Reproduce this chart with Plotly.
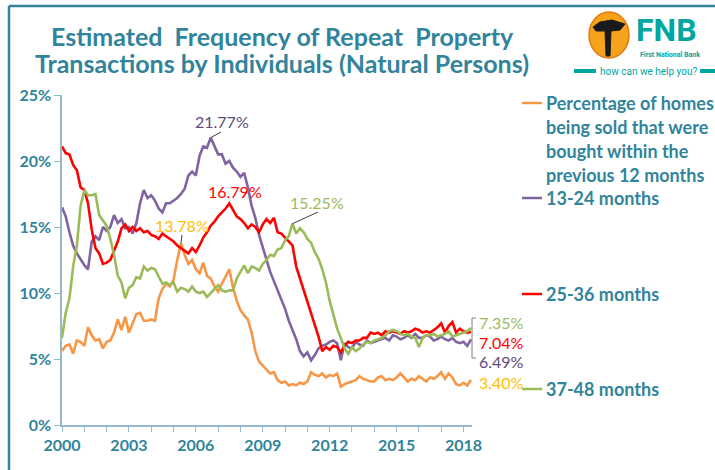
import plotly.graph_objects as go

# ---------------- data (bimonthly readings, Jan 2000 .. May 2018) ----------------
start_year = 2000
n_points = 111
x_years = [start_year + i / 6 for i in range(n_points)]

pct_12m = [
    5.6, 6.0, 6.1, 5.4, 6.4, 6.3,
    6.0, 7.4, 6.8, 6.4, 6.5, 5.8,
    6.3, 6.4, 7.0, 8.0, 7.2, 8.2,
    7.0, 7.7, 8.4, 8.5, 7.9, 7.9,
    8.0, 7.9, 9.6, 10.3, 10.7, 10.5,
    11.0, 12.5, 13.78, 12.9, 12.2, 12.5,
    11.8, 11.5, 12.3, 11.3, 11.1, 10.5,
    10.1, 10.7, 11.3, 11.8, 10.4, 9.4,
    8.7, 8.3, 8.0, 7.0, 5.6, 4.8,
    4.5, 4.2, 3.9, 4.0, 3.4, 3.2,
    3.3, 3.0, 3.1, 3.0, 3.2, 3.1,
    3.3, 4.0, 3.8, 3.7, 3.9, 3.6,
    3.8, 3.7, 3.9, 2.9, 3.1, 3.2,
    3.3, 3.4, 3.7, 3.5, 3.4, 3.3,
    3.3, 3.6, 3.7, 3.4, 3.5, 3.4,
    3.6, 3.9, 3.6, 3.3, 3.5, 3.4,
    3.7, 3.5, 3.3, 3.6, 3.5, 3.7,
    4.0, 3.5, 3.9, 3.6, 3.1, 3.0,
    3.2, 3.0, 3.40,
]

pct_13_24 = [
    16.5, 15.8, 14.6, 13.6, 13.0, 12.5,
    12.1, 11.8, 13.9, 14.3, 14.0, 15.0,
    14.7, 15.0, 15.9, 15.3, 15.6, 14.9,
    15.0, 14.5, 15.3, 16.8, 17.8, 17.2,
    17.4, 17.0, 16.4, 16.1, 16.8, 16.8,
    17.0, 17.2, 17.5, 17.9, 18.9, 19.2,
    18.9, 20.4, 21.1, 21.0, 21.77, 21.1,
    20.5, 20.5, 19.8, 20.0, 19.5, 19.2,
    18.8, 19.1, 18.0, 16.6, 15.7, 14.4,
    13.4, 12.5, 11.6, 10.9, 10.2, 9.5,
    8.8, 7.9, 7.2, 6.5, 5.6, 5.2,
    5.5, 4.9, 5.3, 5.8, 6.0, 6.1,
    6.3, 6.4, 6.2, 4.9, 6.2, 5.9,
    5.8, 6.3, 6.1, 6.0, 6.4, 6.2,
    6.3, 6.4, 6.5, 6.6, 6.4, 6.8,
    6.7, 6.5, 6.6, 6.8, 6.6, 6.9,
    6.6, 6.6, 6.8, 6.7, 6.4, 6.5,
    6.7, 6.5, 6.4, 6.6, 6.3, 6.2,
    6.3, 6.0, 6.49,
]

pct_25_36 = [
    21.1, 20.6, 20.5, 19.7, 19.3, 18.0,
    17.8, 16.8, 14.8, 13.4, 13.0, 12.2,
    12.3, 12.5, 13.2, 13.9, 14.9, 15.2,
    14.7, 15.0, 14.7, 14.9, 14.6, 14.7,
    14.4, 14.3, 14.1, 14.5, 14.3, 14.1,
    13.9, 13.6, 13.4, 13.2, 13.0, 13.4,
    13.1, 13.6, 14.2, 14.6, 15.1, 15.4,
    15.8, 16.1, 16.4, 16.79, 16.3, 15.8,
    15.6, 15.3, 14.9, 15.2, 15.0, 14.6,
    15.2, 15.6, 15.3, 15.7, 14.6, 14.5,
    14.2, 13.9, 13.6, 12.0, 11.1, 10.3,
    9.4, 8.5, 7.5, 6.7, 5.6, 5.9,
    5.7, 6.0, 5.9, 5.5, 6.0, 6.3,
    6.2, 6.4, 6.4, 6.6, 6.6, 7.0,
    6.9, 7.0, 6.8, 7.1, 7.0, 7.1,
    7.0, 6.9, 7.1, 7.0, 7.1, 7.3,
    7.2, 7.0, 7.1, 7.0, 7.2, 7.4,
    7.7, 7.0, 7.5, 7.8, 7.0, 7.3,
    7.1, 7.0, 7.04,
]

pct_37_48 = [
    6.6, 8.5, 9.6, 12.0, 13.6, 16.6,
    17.8, 17.4, 17.4, 17.5, 15.9, 15.5,
    15.1, 14.1, 12.9, 11.3, 10.8, 9.6,
    10.4, 10.6, 11.2, 11.1, 12.0, 11.7,
    11.9, 11.8, 11.3, 10.7, 10.8, 10.6,
    10.8, 10.1, 10.4, 10.3, 10.1, 10.5,
    10.1, 10.0, 10.1, 9.7, 10.0, 10.3,
    10.6, 10.2, 10.1, 10.2, 10.2, 11.1,
    11.6, 12.1, 11.5, 12.0, 11.9, 11.7,
    12.2, 12.5, 12.9, 12.8, 13.3, 13.4,
    14.0, 14.3, 15.25, 14.5, 14.9, 14.6,
    14.1, 13.8, 13.1, 12.6, 11.8, 10.8,
    9.4, 8.4, 7.3, 6.6, 5.8, 5.4,
    5.9, 5.6, 5.8, 6.1, 6.3, 6.2,
    6.4, 6.5, 6.6, 6.8, 7.1, 7.2,
    7.1, 6.9, 6.8, 6.9, 6.7, 6.6,
    5.9, 6.6, 6.8, 6.8, 6.9, 6.7,
    6.8, 6.9, 7.1, 6.7, 6.8, 6.9,
    7.0, 7.1, 7.35,
]

series_names = [
    "Percentage of homes being sold that were bought within the previous 12 months",
    "13-24 months", "25-36 months", "37-48 months",
]
year_ticks = [2000, 2003, 2006, 2009, 2012, 2015, 2018]
pct_ticks = [0, 5, 10, 15, 20, 25]
pct_tick_text = ["0%", "5%", "10%", "15%", "20%", "25%"]

# ---------------- styling ----------------
TEAL = "#31849B"
AXIS = "#93B9CF"
C_OR = "#F79646"
C_PU = "#8064A2"
C_RE = "#FF0000"
C_GR = "#9BBB59"
C_GOLD = "#FFC000"
C_PUD = "#604A7B"
FNB_T = "#00A6A0"
FONT = "Lato"

W, H = 715, 470
L, R, T, B = 62, 472, 95, 425


def px(xp):
    return (xp - L) / (R - L)


def py(yp):
    return (B - yp) / (B - T)


fig = go.Figure()
for vals, col, name in zip([pct_12m, pct_13_24, pct_25_36, pct_37_48],
                           [C_OR, C_PU, C_RE, C_GR], series_names):
    fig.add_trace(go.Scatter(x=x_years, y=vals, mode="lines", name=name,
                             line=dict(color=col, width=2.6), showlegend=False,
                             hoverinfo="skip"))

fig.update_layout(
    width=W, height=H,
    margin=dict(l=L, r=W - R, t=T, b=H - B),
    paper_bgcolor="white", plot_bgcolor="white",
    xaxis=dict(range=[2000, 2018.38], tickvals=year_ticks, ticks="outside",
               ticklen=5, tickcolor=AXIS, showline=True, linecolor=AXIS,
               linewidth=1.5, showgrid=False, zeroline=False,
               tickfont=dict(family=FONT, size=16, color=TEAL, weight="bold"),
               minor=dict(dtick=1, tick0=2000, ticks="outside", ticklen=5,
                          tickcolor=AXIS, showgrid=False)),
    yaxis=dict(range=[0, 25], tickvals=pct_ticks, ticktext=pct_tick_text,
               ticks="outside", ticklen=6, tickcolor=AXIS, showline=True,
               linecolor=AXIS, linewidth=1.5, showgrid=False, zeroline=False,
               tickfont=dict(family=FONT, size=16, color=TEAL, weight="bold")),
)

ann = []
shapes = []

# Title
for txt, yy in [("Estimated\u00a0\u00a0Frequency of Repeat\u00a0\u00a0Property", 36),
                ("Transactions by Individuals (Natural Persons)", 63)]:
    ann.append(dict(text=txt, xref="paper", yref="paper", x=px(282), y=py(yy),
                    xanchor="center", yanchor="middle", showarrow=False,
                    font=dict(family=FONT, size=25, color=TEAL, weight="bold")))

# Frame
shapes.append(dict(type="line", xref="paper", yref="paper", x0=px(9), x1=px(760),
                   y0=py(6), y1=py(6), line=dict(color=TEAL, width=2.5)))
shapes.append(dict(type="line", xref="paper", yref="paper", x0=px(9), x1=px(9),
                   y0=py(6), y1=py(500), line=dict(color=TEAL, width=2.5)))

# Legend
leg_font = dict(family=FONT, size=18, color=TEAL, weight="bold")
leg = [(C_OR, 103, ["Percentage of homes", "being sold that were",
                    "bought within the", "previous 12 months"]),
       (C_PU, 198, [series_names[1]]),
       (C_RE, 294, [series_names[2]]),
       (C_GR, 389, [series_names[3]])]
for col, y0, lines in leg:
    shapes.append(dict(type="line", xref="paper", yref="paper", x0=px(522), x1=px(542),
                       y0=py(y0), y1=py(y0), line=dict(color=col, width=2.5)))
    for k, t in enumerate(lines):
        ann.append(dict(text=t, xref="paper", yref="paper", x=px(544), y=py(y0 + 24 * k),
                        xanchor="left", yanchor="middle", showarrow=False, font=leg_font))

# Data labels (text position + leader line)
lab_font = 16
peak_labels = [
    ("21.77%", C_PUD, x_years[40], pct_13_24[40], 222, 122, (221, 132)),
    ("16.79%", C_RE, x_years[45], pct_25_36[45], 235, 191, None),
    ("13.78%", C_GOLD, x_years[32], pct_12m[32], 182, 225, (182, 235)),
    ("15.25%", C_GR, x_years[62], pct_37_48[62], 317, 202, (318, 212)),
]
for t, col, xv, yv, tx, ty, lead in peak_labels:
    ann.append(dict(text=t, xref="paper", yref="paper", x=px(tx), y=py(ty),
                    xanchor="center", yanchor="middle", showarrow=False,
                    font=dict(family=FONT, size=lab_font, color=col)))
    if lead is not None:
        shapes.append(dict(type="line", xref="x", yref="y", x0=xv, y0=yv,
                           x1=2000 + (lead[0] - L) / (R - L) * 18.38,
                           y1=(B - lead[1]) / (B - T) * 25,
                           line=dict(color="#404040", width=1)))

end_labels = [("7.35%", C_GR, 322), ("7.04%", C_RE, 342), ("6.49%", C_PUD, 361),
              ("3.40%", C_GOLD, 382)]
for t, col, yy in end_labels:
    ann.append(dict(text=t, xref="paper", yref="paper", x=px(477), y=py(yy),
                    xanchor="left", yanchor="middle", showarrow=False,
                    font=dict(family=FONT, size=lab_font, color=col)))
shapes.append(dict(type="path", xref="paper", yref="paper",
                   path=f"M {px(476)} {py(318)} L {px(472)} {py(318)} L {px(472)} {py(358)} L {px(476)} {py(358)}",
                   line=dict(color="#7F7F7F", width=1)))

# Logo (approximation)
shapes.append(dict(type="circle", xref="paper", yref="paper", x0=px(589), x1=px(629),
                   y0=py(58), y1=py(12), fillcolor="#F7A21B", line=dict(color="#E47A0E", width=1.5)))
shapes.append(dict(type="path", xref="paper", yref="paper",
                   path=(f"M {px(593)} {py(27)} L {px(600)} {py(22)} L {px(612)} {py(20)} "
                         f"L {px(625)} {py(24)} L {px(620)} {py(30)} L {px(611)} {py(31)} "
                         f"L {px(610)} {py(56)} L {px(606)} {py(56)} L {px(605)} {py(31)} "
                         f"L {px(596)} {py(31)} Z"),
                   fillcolor="#1A1A1A", line=dict(color="#1A1A1A", width=1)))
ann.append(dict(text="FNB", xref="paper", yref="paper", x=px(666), y=py(30),
                xanchor="center", yanchor="middle", showarrow=False,
                font=dict(family="Roboto", size=32, color=FNB_T, weight="bold")))
ann.append(dict(text="First National Bank", xref="paper", yref="paper", x=px(670), y=py(55),
                xanchor="center", yanchor="middle", showarrow=False,
                font=dict(family="Roboto", size=7, color=FNB_T, weight="bold")))
ann.append(dict(text="how can we help you?", xref="paper", yref="paper", x=px(648), y=py(71),
                xanchor="center", yanchor="middle", showarrow=False,
                font=dict(family="Roboto", size=10, color=FNB_T)))
for a, b in [(574, 596), (700, 715)]:
    shapes.append(dict(type="line", xref="paper", yref="paper", x0=px(a), x1=px(b),
                       y0=py(71), y1=py(71), line=dict(color=FNB_T, width=4)))

fig.update_layout(annotations=ann, shapes=shapes)
fig.write_html("out.html", config={"displayModeBar": False},
               post_script="document.body.style.margin='0px';")
